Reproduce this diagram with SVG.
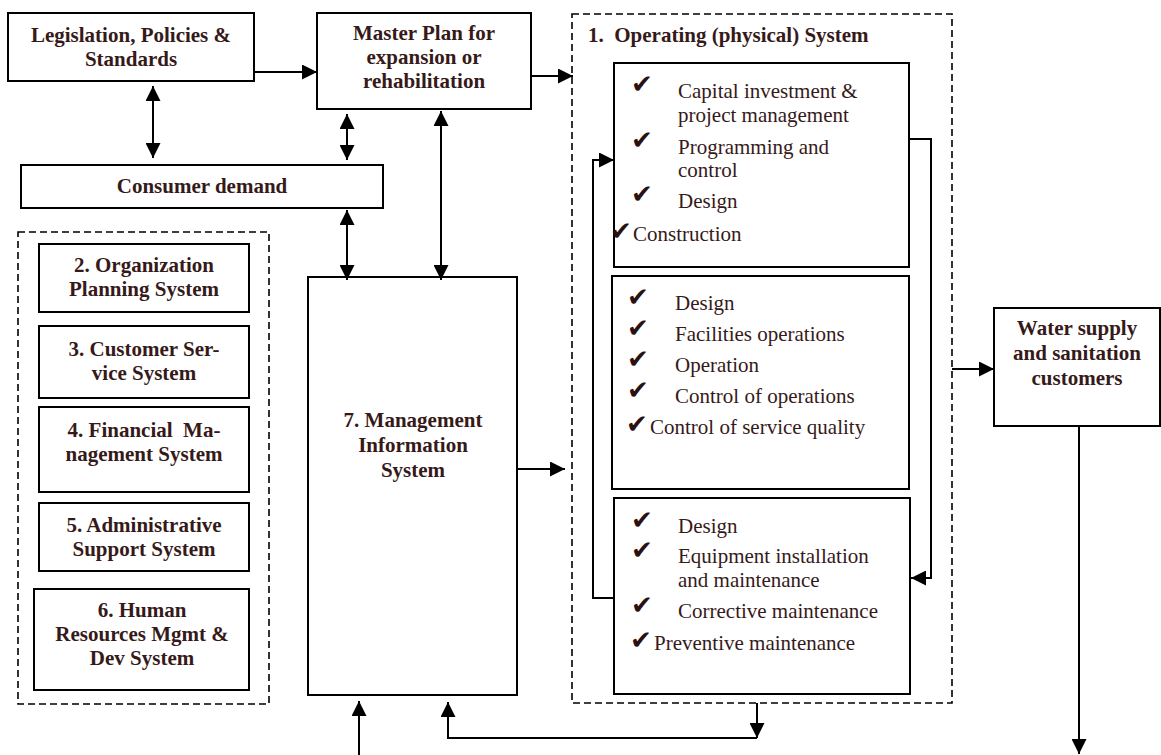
<svg xmlns="http://www.w3.org/2000/svg" width="1161" height="755" viewBox="0 0 1161 755">
  <style>
    .box { fill: #ffffff; stroke: #000000; stroke-width: 2; }
    .dash { fill: none; stroke: #000000; stroke-width: 1.6; stroke-dasharray: 7 4; }
    .conn { fill: none; stroke: #000000; stroke-width: 2; }
    .b { font-family: "Liberation Serif", "Times New Roman", serif; font-size: 21px; font-weight: bold; fill: #361a1a; text-anchor: middle; }
    .r { font-family: "Liberation Serif", "Times New Roman", serif; font-size: 21px; fill: #361a1a; }
    .t { font-family: "Liberation Serif", "Times New Roman", serif; font-size: 21px; font-weight: bold; fill: #361a1a; }
    .ck { font-family: "DejaVu Sans", sans-serif; font-size: 26px; fill: #2a1010; }
  </style>
  <defs>
    <marker id="arr" markerUnits="userSpaceOnUse" markerWidth="15" markerHeight="15" refX="15" refY="7.5" orient="auto-start-reverse">
      <path d="M0,0 L15,7.5 L0,15 Z" fill="#000000"/>
    </marker>
  </defs>

  <rect width="1161" height="755" fill="#ffffff"/>

  <!-- containers -->
  <rect id="operating-system" class="dash" x="572" y="14" width="380" height="689"/>
  <rect id="support-systems" class="dash" x="18" y="232" width="251" height="472"/>

  <g id="legislation">
    <rect class="box" x="8" y="13" width="246" height="68"/>
    <text class="b" x="131" y="42">Legislation, Policies &amp;</text>
    <text class="b" x="131" y="66">Standards</text>
  </g>

  <g id="master-plan">
    <rect class="box" x="317" y="13" width="214" height="96"/>
    <text class="b" x="424" y="40">Master Plan for</text>
    <text class="b" x="424" y="64">expansion or</text>
    <text class="b" x="424" y="88">rehabilitation</text>
  </g>

  <g id="consumer-demand">
    <rect class="box" x="21" y="165" width="362" height="43"/>
    <text class="b" x="202" y="193">Consumer demand</text>
  </g>

  <g id="organization-planning">
    <rect class="box" x="39" y="244" width="210" height="68"/>
    <text class="b" x="144" y="272">2. Organization</text>
    <text class="b" x="144" y="296">Planning System</text>
  </g>

  <g id="customer-service">
    <rect class="box" x="39" y="326" width="210" height="72"/>
    <text class="b" x="144" y="356">3. Customer Ser-</text>
    <text class="b" x="144" y="380">vice System</text>
  </g>

  <g id="financial-management">
    <rect class="box" x="39" y="407" width="210" height="85"/>
    <text class="b" x="144" y="437" xml:space="preserve">4. Financial  Ma-</text>
    <text class="b" x="144" y="461">nagement System</text>
  </g>

  <g id="administrative-support">
    <rect class="box" x="39" y="503" width="210" height="68"/>
    <text class="b" x="144" y="532">5. Administrative</text>
    <text class="b" x="144" y="556">Support System</text>
  </g>

  <g id="human-resources">
    <rect class="box" x="34" y="589" width="215" height="101"/>
    <text class="b" x="142" y="617">6. Human</text>
    <text class="b" x="142" y="641">Resources Mgmt &amp;</text>
    <text class="b" x="142" y="665">Dev System</text>
  </g>

  <g id="management-information">
    <rect class="box" x="308" y="277" width="209" height="418"/>
    <text class="b" x="413" y="427">7. Management</text>
    <text class="b" x="413" y="452">Information</text>
    <text class="b" x="413" y="477">System</text>
  </g>

  <g id="operating-title">
    <text class="t" x="588" y="42" xml:space="preserve">1.  Operating (physical) System</text>
  </g>

  <g id="capital-works">
    <rect class="box" x="614" y="63" width="295" height="204"/>
    <text class="ck" x="631" y="93">✔</text>
    <text class="r" x="678" y="98">Capital investment &amp;</text>
    <text class="r" x="678" y="122">project management</text>
    <text class="ck" x="631" y="149">✔</text>
    <text class="r" x="678" y="154">Programming and</text>
    <text class="r" x="678" y="177">control</text>
    <text class="ck" x="631" y="203">✔</text>
    <text class="r" x="678" y="208">Design</text>
    <text class="ck" x="610" y="240">✔</text>
    <text class="r" x="633" y="241">Construction</text>
  </g>

  <g id="operations">
    <rect class="box" x="612" y="276" width="297" height="213"/>
    <text class="ck" x="627" y="306">✔</text>
    <text class="r" x="675" y="310">Design</text>
    <text class="ck" x="627" y="337">✔</text>
    <text class="r" x="675" y="341">Facilities operations</text>
    <text class="ck" x="627" y="368">✔</text>
    <text class="r" x="675" y="372">Operation</text>
    <text class="ck" x="627" y="399">✔</text>
    <text class="r" x="675" y="403">Control of operations</text>
    <text class="ck" x="626" y="433">✔</text>
    <text class="r" x="650" y="434">Control of service quality</text>
  </g>

  <g id="maintenance">
    <rect class="box" x="614" y="498" width="296" height="196"/>
    <text class="ck" x="631" y="529">✔</text>
    <text class="r" x="678" y="533">Design</text>
    <text class="ck" x="631" y="559">✔</text>
    <text class="r" x="678" y="563">Equipment installation</text>
    <text class="r" x="678" y="587">and maintenance</text>
    <text class="ck" x="631" y="614">✔</text>
    <text class="r" x="678" y="618">Corrective maintenance</text>
    <text class="ck" x="630" y="649">✔</text>
    <text class="r" x="654" y="650">Preventive maintenance</text>
  </g>

  <g id="customers">
    <rect class="box" x="994" y="308" width="166" height="118"/>
    <text class="b" x="1077" y="335">Water supply</text>
    <text class="b" x="1077" y="360">and sanitation</text>
    <text class="b" x="1077" y="385">customers</text>
  </g>

  <g id="connectors">
    <path class="conn" d="M254,72 H317" marker-end="url(#arr)"/>
    <path class="conn" d="M531,76 H573" marker-end="url(#arr)"/>
    <path class="conn" d="M153,86 V158" marker-start="url(#arr)" marker-end="url(#arr)"/>
    <path class="conn" d="M347,114 V160" marker-start="url(#arr)" marker-end="url(#arr)"/>
    <path class="conn" d="M347,210 V280" marker-start="url(#arr)" marker-end="url(#arr)"/>
    <path class="conn" d="M441,111 V280" marker-start="url(#arr)" marker-end="url(#arr)"/>
    <path class="conn" d="M517,469 H565" marker-end="url(#arr)"/>
    <path class="conn" d="M359,755 V701" marker-end="url(#arr)"/>
    <path class="conn" d="M757,703 V738" marker-end="url(#arr)"/>
    <path class="conn" d="M757,738 H448 V702" marker-end="url(#arr)"/>
    <path class="conn" d="M614,598 H593 V160 H614" marker-end="url(#arr)"/>
    <path class="conn" d="M909,139 H931 V578 H911" marker-end="url(#arr)"/>
    <path class="conn" d="M952,369 H994" marker-end="url(#arr)"/>
    <path class="conn" d="M1079,426 V754" marker-end="url(#arr)"/>
  </g>
</svg>
